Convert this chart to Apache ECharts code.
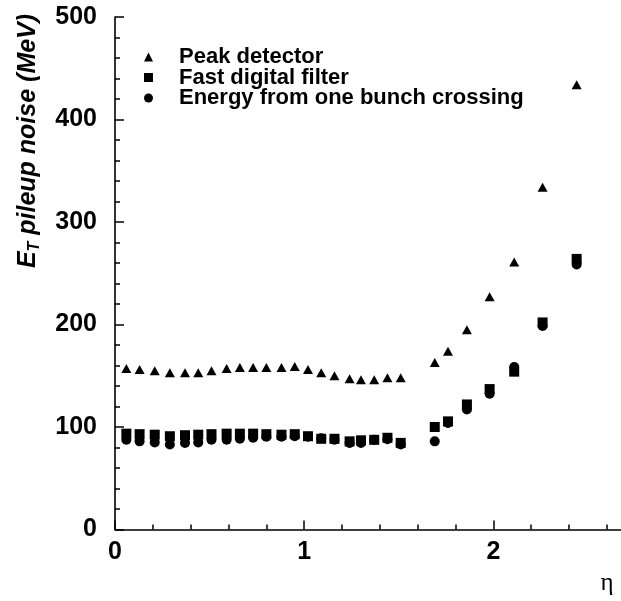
<!DOCTYPE html>
<html>
<head>
<meta charset="utf-8">
<script src="https://cdn.jsdelivr.net/npm/echarts@6/dist/echarts.min.js"></script>
<style>
html,body{margin:0;padding:0;background:#fff;}
#chart{width:621px;height:601px;}
</style>
</head>
<body>
<div id="chart"></div>
<script>
// eta des points (communs aux trois séries)
var eta = [0.06,0.13,0.21,0.29,0.37,0.44,0.51,0.59,0.66,0.73,0.80,0.88,0.95,1.02,1.09,1.16,1.24,1.30,1.37,1.44,1.51,
           1.69,1.76,1.86,1.98,2.11,2.26,2.44];
// bruit d'empilement E_T (MeV)
var peakDetector = [157,156,155,153,153,153,155,157,158,158,158,158,159,156,153,150,147,146,146,148,148,
                    163,174,195,227,261,334,434];
var fastFilter = [93.5,93,92.5,91,92,92.5,93,93.5,93.5,93.5,93,92.5,93,91,88.5,88.5,86,87,87.5,89.5,84.5,
                  100,105.5,122,137,154,202,264];
var oneBunch = [87.5,86,85,83,84.5,85,87.5,87.5,88.5,89.5,90.5,90.5,91,90.5,89,87.5,84.5,84.5,87.5,88,83,
                86,104,117,132.5,158.5,198.5,258.5];
var seriesNames = ['Peak detector','Fast digital filter','Energy from one bunch crossing'];
var xTicks = [0,1,2];

var font = 'Liberation Sans, Arial, Helvetica, sans-serif';

var toPairs = function(vals){
	var out = [];
	for (var i = 0; i < eta.length; i++) {
		out.push([eta[i], vals[i]]);
	}
	return out;
};

var axisCommon = {
	axisLine: {show: true, onZero: false, lineStyle: {color: '#000', width: 1.6}},
	axisTick: {show: true, inside: true, length: 9, lineStyle: {color: '#000', width: 1.5}},
	minorTick: {show: true, splitNumber: 5, length: 5, lineStyle: {color: '#000', width: 1.5}},
	splitLine: {show: false},
	minorSplitLine: {show: false}
};

var myChart = echarts.init(document.getElementById('chart'), null, {renderer: 'canvas'});

var option = {
	backgroundColor: '#fff',
	animation: false,
	// l'axe x continue au-dela du bord droit (coupé comme sur l'original)
	grid: {left: 115, top: 17, bottom: 71.5, right: -61.6, containLabel: false, outerBoundsMode: 'none'},
	legend: {
		orient: 'vertical',
		left: 144,
		top: 46,
		padding: 0,
		itemGap: -1.5,
		itemWidth: 9,
		itemHeight: 9,
		selectedMode: false,
		textStyle: {color: '#000', fontFamily: font, fontWeight: 'bold', fontSize: 22, padding: [0, 0, 0, 21]},
		data: seriesNames
	},
	xAxis: Object.assign({
		type: 'value',
		min: 0,
		max: 3,
		interval: 1,
		axisLabel: {
			color: '#000', fontFamily: font, fontWeight: 'bold', fontSize: 25, margin: 10,
			formatter: function(v){ return xTicks.indexOf(v) >= 0 ? String(v) : ''; }
		}
	}, axisCommon),
	yAxis: Object.assign({
		type: 'value',
		min: 0,
		max: 500,
		interval: 100,
		axisLabel: {color: '#000', fontFamily: font, fontWeight: 'bold', fontSize: 25, margin: 18}
	}, axisCommon),
	graphic: [
		{
			type: 'text',
			x: 28,
			y: 141,
			rotation: Math.PI / 2,
			style: {
				text: '{m|E}{s|T}{m| pileup noise (MeV)}',
				align: 'center',
				verticalAlign: 'middle',
				fill: '#000',
				rich: {
					m: {fontFamily: font, fontWeight: 'bold', fontStyle: 'italic', fontSize: 25, lineHeight: 30, fill: '#000'},
					s: {fontFamily: font, fontWeight: 'bold', fontStyle: 'italic', fontSize: 16, lineHeight: 30, verticalAlign: 'bottom', padding: [10, 0, 0, 0], fill: '#000'}
				}
			}
		},
		{
			type: 'text',
			x: 607,
			y: 583,
			style: {text: 'η', fontFamily: 'Liberation Serif, serif', fontSize: 25, fill: '#000', align: 'center', verticalAlign: 'middle'}
		}
	],
	series: [
		{name: seriesNames[0], type: 'scatter', symbol: 'triangle', symbolSize: [10, 9],
		 itemStyle: {color: '#000', opacity: 1}, data: toPairs(peakDetector)},
		{name: seriesNames[1], type: 'scatter', symbol: 'rect', symbolSize: 10,
		 itemStyle: {color: '#000', opacity: 1}, data: toPairs(fastFilter)},
		{name: seriesNames[2], type: 'scatter', symbol: 'circle', symbolSize: 10,
		 itemStyle: {color: '#000', opacity: 1}, data: toPairs(oneBunch)}
	]
};

myChart.setOption(option);
</script>
</body>
</html>
